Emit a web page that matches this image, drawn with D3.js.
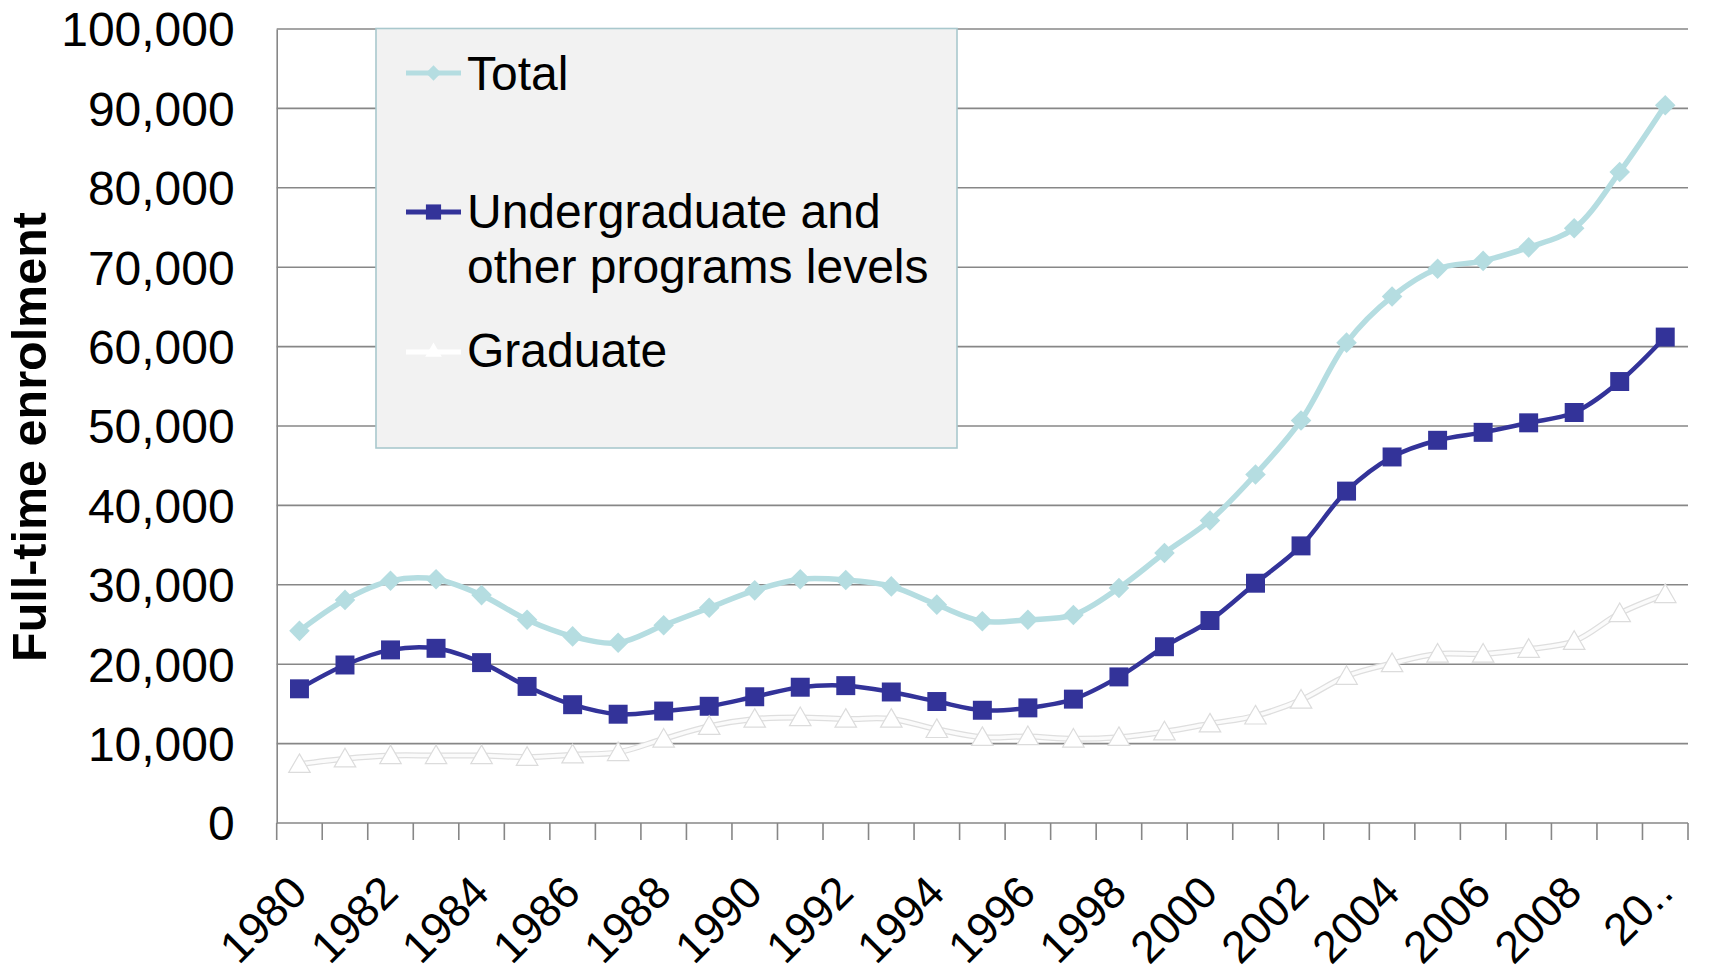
<!DOCTYPE html>
<html>
<head>
<meta charset="utf-8">
<script src="https://cdn.jsdelivr.net/npm/d3@7"></script>
<style>
  html, body { margin: 0; padding: 0; background: #ffffff; }
  svg { display: block; }
  text { font-family: "Liberation Sans", Arial, sans-serif; fill: #000; }
</style>
</head>
<body>
<svg id="chart" width="1711" height="974"></svg>
<script>
const years = ["1980","1981","1982","1983","1984","1985","1986","1987","1988","1989",
  "1990","1991","1992","1993","1994","1995","1996","1997","1998","1999",
  "2000","2001","2002","2003","2004","2005","2006","2007","2008","2009","2010"];
const yearLabels = ["1980","","1982","","1984","","1986","","1988","","1990","","1992","","1994","",
  "1996","","1998","","2000","","2002","","2004","","2006","","2008","","20.."];
const totalValues = [24200, 28100, 30500, 30700, 28700, 25600, 23500, 22700, 24900, 27100,
  29300, 30700, 30600, 29800, 27500, 25400, 25600, 26200, 29600, 34000,
  38100, 43900, 50700, 60500, 66300, 69800, 70800, 72500, 74900, 82000, 90400];
const undergradValues = [16900, 19900, 21800, 22000, 20200, 17200, 14900, 13700, 14100, 14700,
  15900, 17100, 17300, 16500, 15300, 14200, 14500, 15600, 18400, 22200,
  25500, 30200, 34900, 41800, 46100, 48200, 49200, 50400, 51700, 55600, 61200];
const graduateValues = [7400, 8100, 8500, 8500, 8500, 8300, 8600, 8900, 10600, 12200,
  13100, 13300, 13100, 13100, 11800, 10800, 10900, 10600, 10800, 11500,
  12500, 13500, 15500, 18500, 20100, 21300, 21300, 21900, 22900, 26400, 28800];
const yTicks = [0, 10000, 20000, 30000, 40000, 50000, 60000, 70000, 80000, 90000, 100000];
const seriesNames = ["Total", "Undergraduate and|other programs levels", "Graduate"];

(function () {
const svg = d3.select("#chart");
const pLeft = 276.7, pRight = 1688, pTop = 29, pBottom = 823;

const x = d3.scaleBand().domain(years).range([pLeft, pRight]).padding(0);
const y = d3.scaleLinear().domain([0, 100000]).range([pBottom, pTop]);
const gridColor = "#878787";

// gridlines
svg.append("g").selectAll("line").data(yTicks.filter(d => d > 0)).join("line")
  .attr("x1", pLeft).attr("x2", pRight)
  .attr("y1", d => y(d)).attr("y2", d => y(d))
  .attr("stroke", gridColor).attr("stroke-width", 1.6);

// y axis
const yAxis = d3.axisLeft(y).tickValues(yTicks).tickFormat(d3.format(",")).tickSize(0).tickPadding(42);
const gy = svg.append("g").attr("transform", `translate(${pLeft},0)`).call(yAxis);
gy.select(".domain").attr("stroke", gridColor).attr("stroke-width", 1.6);
gy.selectAll("text").style("font-family", '"Liberation Sans", Arial, sans-serif')
  .style("font-size", "48px").attr("fill", "#000").attr("dy", "0.35em");

// x axis: line + ticks at band boundaries
const gx = svg.append("g");
gx.append("line").attr("x1", pLeft).attr("x2", pRight).attr("y1", pBottom).attr("y2", pBottom)
  .attr("stroke", gridColor).attr("stroke-width", 1.6);
const boundaries = d3.range(years.length + 1).map(i => i < years.length ? x(years[i]) : pRight);
gx.selectAll("line.tick").data(boundaries).join("line").attr("class", "tick")
  .attr("x1", d => d).attr("x2", d => d).attr("y1", pBottom).attr("y2", pBottom + 17)
  .attr("stroke", gridColor).attr("stroke-width", 1.6);
gx.selectAll("text").data(years.map((d, i) => ({year: d, label: yearLabels[i]})).filter(d => d.label))
  .join("text")
  .attr("transform", d => `translate(${x(d.year) + x.bandwidth() / 2 + 10},${895}) rotate(-45)`)
  .attr("text-anchor", "end")
  .style("font-size", "45px")
  .text(d => d.label);

// y axis title
svg.append("text")
  .attr("transform", `translate(46,437) rotate(-90)`)
  .attr("text-anchor", "middle")
  .style("font-size", "48.5px").style("font-weight", "bold")
  .text("Full-time enrolment");

const cx = d => x(d) + x.bandwidth() / 2;
const curve = d3.curveCatmullRom.alpha(0.5);
const lineGen = vals => d3.line().x((d, i) => cx(years[i])).y(d => y(d)).curve(curve)(vals);

const diamond = d3.symbol().type(d3.symbolDiamond2).size(270);
const square = d3.symbol().type(d3.symbolSquare).size(360);
const triangle = d3.symbol().type(d3.symbolTriangle).size(200);

// Total
svg.append("path").attr("d", lineGen(totalValues)).attr("fill", "none")
  .attr("stroke", "#b5dde1").attr("stroke-width", 5.5);
svg.append("g").selectAll("path").data(totalValues).join("path")
  .attr("transform", (d, i) => `translate(${cx(years[i])},${y(d)})`)
  .attr("d", diamond).attr("fill", "#b5dde1");

// Undergraduate
svg.append("path").attr("d", lineGen(undergradValues)).attr("fill", "none")
  .attr("stroke", "#333399").attr("stroke-width", 4.5);
svg.append("g").selectAll("path").data(undergradValues).join("path")
  .attr("transform", (d, i) => `translate(${cx(years[i])},${y(d)})`)
  .attr("d", square).attr("fill", "#333399");

// Graduate
svg.append("path").attr("d", lineGen(graduateValues)).attr("fill", "none")
  .attr("stroke", "#dedede").attr("stroke-width", 6);
svg.append("path").attr("d", lineGen(graduateValues)).attr("fill", "none")
  .attr("stroke", "#fbfbfb").attr("stroke-width", 3.5);
svg.append("g").selectAll("path").data(graduateValues).join("path")
  .attr("transform", (d, i) => `translate(${cx(years[i])},${y(d) + 2})`)
  .attr("d", triangle).attr("fill", "#ffffff").attr("stroke", "#dcdcdc").attr("stroke-width", 1.2);

// Legend
const lg = svg.append("g");
lg.append("rect").attr("x", 376).attr("y", 28.5).attr("width", 581).attr("height", 419.5)
  .attr("fill", "#f2f2f2").attr("stroke", "#a9c8cd").attr("stroke-width", 1.6);
const legendItems = [
  {name: seriesNames[0], ly: 73, color: "#b5dde1", sym: d3.symbol().type(d3.symbolDiamond2).size(150), textY: [90]},
  {name: seriesNames[1], ly: 212, color: "#333399", sym: d3.symbol().type(d3.symbolSquare).size(230), textY: [228, 283]},
  {name: seriesNames[2], ly: 352, color: "#ffffff", sym: d3.symbol().type(d3.symbolTriangle).size(120), textY: [367]}
];
legendItems.forEach(it => {
  lg.append("line").attr("x1", 406).attr("x2", 461).attr("y1", it.ly).attr("y2", it.ly)
    .attr("stroke", it.color).attr("stroke-width", 5);
  lg.append("path").attr("d", it.sym).attr("transform", `translate(433.5,${it.ly})`).attr("fill", it.color);
  it.name.split("|").forEach((t, k) => {
    lg.append("text").attr("x", 467).attr("y", it.textY[k]).style("font-size", "48px").text(t);
  });
});
})();
</script>
</body>
</html>
